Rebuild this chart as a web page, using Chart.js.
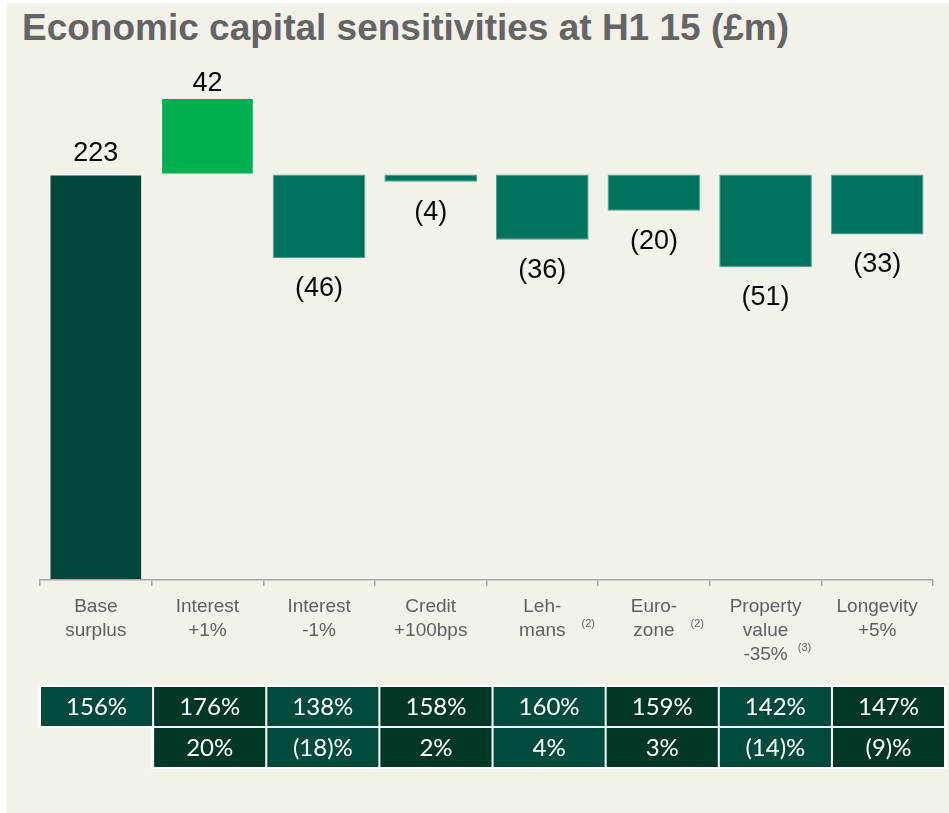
<!DOCTYPE html>
<html>
<head>
<meta charset="utf-8">
<script src="https://cdn.jsdelivr.net/npm/chart.js@4"></script>
<style>
  html, body { margin: 0; padding: 0; background: #ffffff; }
  body { width: 949px; height: 813px; position: relative; overflow: hidden; }
  #panel { position: absolute; left: 7px; top: 3px; width: 942px; height: 810px; background: #F2F2EB; }
  #titre {
    position: absolute; left: 22px; top: 9px;
    font: bold 37px "Liberation Sans", Arial, sans-serif; line-height: 37px;
    color: #646464; white-space: nowrap;
  }
  #zone { position: absolute; left: 0; top: 0; width: 949px; height: 813px; }
</style>
</head>
<body>
<div id="panel"></div>
<div id="titre">Economic capital sensitivities at H1 15 (£m)</div>
<div id="zone"><canvas id="graphique"></canvas></div>
<script>
// Données
const categories = [
  ['Base', 'surplus'],
  ['Interest', '+1%'],
  ['Interest', '-1%'],
  ['Credit', '+100bps'],
  ['Leh-', 'mans'],
  ['Euro-', 'zone'],
  ['Property', 'value', '-35%'],
  ['Longevity', '+5%']
];
const baseSurplus = 223;
const sensitivities = [42, -46, -4, -36, -20, -51, -33];
const footnotes = ['', '', '', '', '(2)', '(2)', '(3)', ''];
const coverRatio = [156, 176, 138, 158, 160, 159, 142, 147];
const coverChange = [null, 20, -18, 2, 4, 3, -14, -9];

// Barres flottantes : la base puis chaque écart à partir du surplus
const barres = [[0, baseSurplus]].concat(sensitivities.map(v => [baseSurplus, baseSurplus + v]));
const ecarts = [baseSurplus].concat(sensitivities);

const couleurs = ecarts.map((v, i) => i === 0 ? '#00493A' : (v > 0 ? '#00B050' : '#00735E'));
const bordures = ecarts.map((v, i) => (i === 0 || v > 0) ? 'rgba(0,0,0,0)' : '#4FA18D');

function formatValeur(v) {
  return v < 0 ? '(' + Math.abs(v) + ')' : String(v);
}
function formatPct(v) {
  if (v === null) return null;
  return v < 0 ? '(' + Math.abs(v) + ')%' : v + '%';
}

// Étiquettes de valeur au-dessus / au-dessous des barres
const etiquettesPlugin = {
  id: 'etiquettes',
  afterDatasetsDraw(chart) {
    const ctx = chart.ctx;
    const meta = chart.getDatasetMeta(0);
    ctx.save();
    ctx.font = '27px "Liberation Sans", Arial, sans-serif';
    ctx.fillStyle = '#0a0a0a';
    ctx.textAlign = 'center';
    ctx.textBaseline = 'alphabetic';
    meta.data.forEach((bar, i) => {
      const v = ecarts[i];
      const haut = Math.min(bar.y, bar.base);
      const bas = Math.max(bar.y, bar.base);
      if (v >= 0) {
        ctx.fillText(formatValeur(v), bar.x, haut - (i === 0 ? 13 : 7));
      } else {
        ctx.fillText(formatValeur(v), bar.x, bas + 38);
      }
    });
    ctx.restore();
  }
};

// Renvois (2), (3) à côté des libellés + tableau des ratios en bas
const tableauPlugin = {
  id: 'tableau',
  afterDraw(chart) {
    const ctx = chart.ctx;
    const x = chart.scales.x;
    const area = chart.chartArea;
    const n = categories.length;

    // renvois
    ctx.save();
    ctx.font = '19px "Liberation Sans", Arial, sans-serif';
    const largeurs = categories.map(c => ctx.measureText(c[c.length - 1]).width);
    ctx.font = '11px "Liberation Sans", Arial, sans-serif';
    ctx.fillStyle = '#606060';
    ctx.textAlign = 'left';
    ctx.textBaseline = 'middle';
    footnotes.forEach((f, i) => {
      if (!f) return;
      const cx = x.getPixelForValue(i);
      const ligne = categories[i].length - 1;
      const y = area.bottom + 27 + ligne * 24 - 12;
      ctx.fillText(f, cx + largeurs[i] / 2 + (ligne > 1 ? 10 : 16), y + 5);
    });
    ctx.restore();

    // tableau
    const etirement = 1.0135;
    const demi = (x.getPixelForValue(1) - x.getPixelForValue(0)) / 2;
    const gauche = i => area.left + (x.getPixelForValue(i) - demi - area.left) * etirement;
    const droite = i => area.left + (x.getPixelForValue(i) + demi - area.left) * etirement;
    const lignes = [coverRatio.map(formatPct), coverChange.map(formatPct)];
    const hauteur = 39;
    const debut = area.bottom + 107;
    ctx.save();
    ctx.font = '24px Lato, "Open Sans", sans-serif';
    ctx.textAlign = 'center';
    ctx.textBaseline = 'middle';
    lignes.forEach((ligne, r) => {
      const y0 = debut + r * (hauteur + 2);
      const premier = ligne.findIndex(t => t !== null);
      ctx.fillStyle = '#ffffff';
      ctx.fillRect(gauche(premier) - 2, y0 - 2, droite(n - 1) - gauche(premier) + 4, hauteur + 4);
      ligne.forEach((t, i) => {
        if (t === null) return;
        const g = gauche(i), d = droite(i);
        ctx.fillStyle = i % 2 === 0 ? '#004B3B' : '#003727';
        ctx.fillRect(g + 1, y0, d - g - 2, hauteur);
        ctx.fillStyle = '#ffffff';
        ctx.fillText(t, (g + d) / 2, y0 + hauteur / 2 + 1);
      });
    });
    ctx.restore();
  }
};

new Chart(document.getElementById('graphique'), {
  type: 'bar',
  data: {
    labels: categories,
    datasets: [{
      data: barres,
      backgroundColor: couleurs,
      borderColor: bordures,
      borderWidth: 1,
      borderSkipped: false,
      barPercentage: 0.83,
      categoryPercentage: 1
    }]
  },
  options: {
    responsive: true,
    maintainAspectRatio: false,
    animation: false,
    layout: { padding: { left: 40, right: 16, top: 98, bottom: 0 } },
    plugins: {
      legend: { display: false },
      tooltip: { enabled: false }
    },
    scales: {
      x: {
        grid: {
          offset: true,
          drawOnChartArea: false,
          drawTicks: true,
          tickLength: 6,
          color: '#A6A6A6',
          lineWidth: 1.5
        },
        border: { display: true, color: '#A6A6A6', width: 1.5 },
        ticks: {
          color: '#606060',
          font: { family: '"Liberation Sans", Arial, sans-serif', size: 19, lineHeight: 1.26 },
          padding: 9,
          maxRotation: 0,
          autoSkip: false
        },
        afterFit(scale) { scale.height = 233; }
      },
      y: { display: false, min: 0, max: 265 }
    }
  },
  plugins: [etiquettesPlugin, tableauPlugin]
});
</script>
</body>
</html>
